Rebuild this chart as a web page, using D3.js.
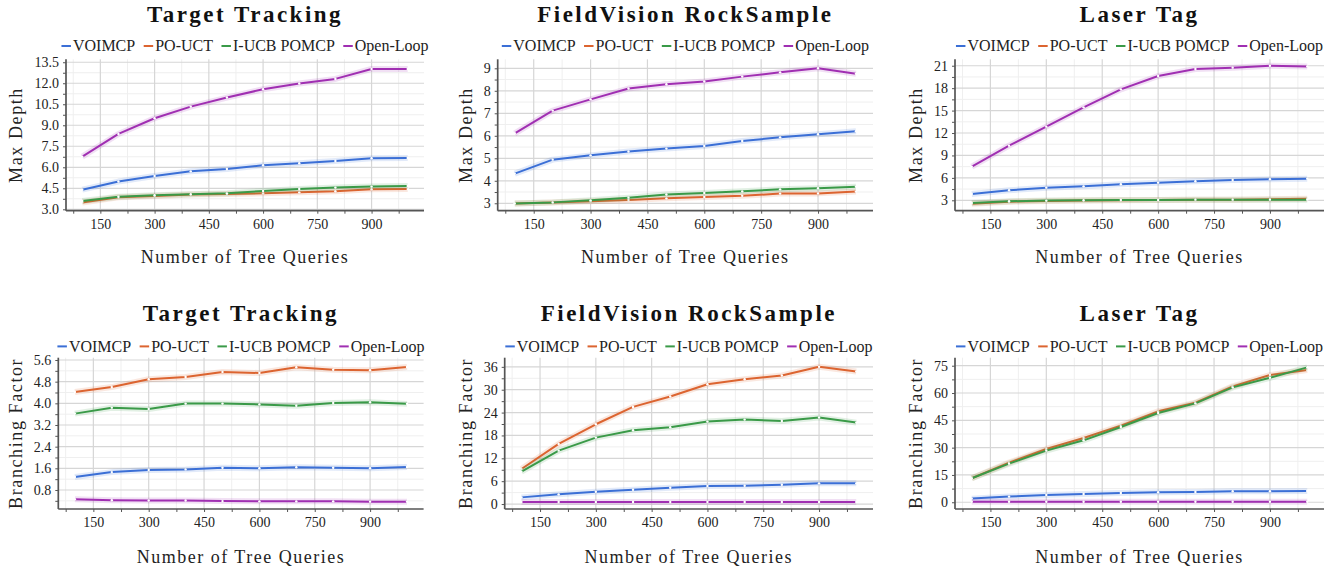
<!DOCTYPE html>
<html>
<head>
<meta charset="utf-8">
<script src="https://cdn.jsdelivr.net/npm/d3@7"></script>
<style>
  body { margin: 0; background: #fff; }
  svg { display: block; }
</style>
</head>
<body>
<div id="chart"></div>
<script>
// x values shared by every panel
const queries = [100, 200, 300, 400, 500, 600, 700, 800, 900, 1000];
const seriesNames = ["VOIMCP", "PO-UCT", "I-UCB POMCP", "Open-Loop"];
const seriesColors = ["#3b6fd6", "#dc6430", "#3a9a48", "#a02fb2"];
const FONT = '"Liberation Serif", "Times New Roman", serif';

// Max depth
const ttDepthVoimcp = [4.40, 4.98, 5.38, 5.71, 5.88, 6.14, 6.29, 6.45, 6.64, 6.67];
const ttDepthPouct  = [3.48, 3.86, 3.95, 4.05, 4.10, 4.14, 4.21, 4.29, 4.43, 4.45];
const ttDepthIucb   = [3.60, 3.90, 4.00, 4.07, 4.14, 4.31, 4.45, 4.55, 4.62, 4.67];
const ttDepthOpen   = [6.76, 8.38, 9.50, 10.33, 10.98, 11.57, 11.98, 12.31, 13.02, 13.02];

const rsDepthVoimcp = [4.32, 4.94, 5.13, 5.30, 5.43, 5.55, 5.77, 5.93, 6.07, 6.20];
const rsDepthPouct  = [2.99, 3.03, 3.09, 3.15, 3.22, 3.28, 3.33, 3.43, 3.44, 3.52];
const rsDepthIucb   = [2.99, 3.04, 3.13, 3.25, 3.39, 3.46, 3.53, 3.62, 3.67, 3.74];
const rsDepthOpen   = [6.11, 7.12, 7.62, 8.10, 8.29, 8.41, 8.63, 8.82, 9.00, 8.76];

const ltDepthVoimcp = [3.85, 4.34, 4.69, 4.87, 5.14, 5.36, 5.54, 5.72, 5.81, 5.90];
const ltDepthPouct  = [2.55, 2.82, 2.91, 2.96, 3.00, 3.04, 3.09, 3.09, 3.13, 3.22];
const ltDepthIucb   = [2.64, 2.87, 2.96, 3.00, 3.04, 3.04, 3.09, 3.09, 3.09, 3.09];
const ltDepthOpen   = [7.50, 10.31, 12.85, 15.43, 17.84, 19.62, 20.56, 20.74, 21.00, 20.91];

// Branching factor
const ttBranchVoimcp = [1.28, 1.46, 1.54, 1.56, 1.62, 1.60, 1.64, 1.62, 1.60, 1.65];
const ttBranchPouct  = [4.42, 4.60, 4.89, 4.97, 5.16, 5.12, 5.33, 5.24, 5.22, 5.34];
const ttBranchIucb   = [3.62, 3.84, 3.79, 3.99, 3.99, 3.96, 3.91, 4.01, 4.04, 3.98];
const ttBranchOpen   = [0.46, 0.42, 0.41, 0.41, 0.39, 0.38, 0.38, 0.38, 0.37, 0.37];

const rsBranchVoimcp = [1.75, 2.54, 3.24, 3.77, 4.29, 4.73, 4.82, 5.08, 5.43, 5.43];
const rsBranchPouct  = [9.20, 15.77, 20.93, 25.49, 28.20, 31.44, 32.76, 33.72, 36.00, 34.77];
const rsBranchIucb   = [8.50, 14.01, 17.43, 19.36, 20.15, 21.63, 22.16, 21.81, 22.69, 21.37];
const rsBranchOpen   = [0.53, 0.52, 0.52, 0.52, 0.52, 0.52, 0.52, 0.52, 0.52, 0.52];

const ltBranchVoimcp = [2.00, 3.10, 4.00, 4.57, 5.12, 5.49, 5.67, 6.04, 6.04, 6.20];
const ltBranchPouct  = [13.17, 21.77, 29.27, 35.30, 42.07, 49.94, 54.69, 63.66, 69.87, 72.60];
const ltBranchIucb   = [13.17, 21.22, 28.35, 34.02, 41.34, 49.00, 54.33, 63.10, 68.40, 74.08];
const ltBranchOpen   = [0.30, 0.30, 0.30, 0.30, 0.30, 0.30, 0.30, 0.30, 0.30, 0.30];

// tick labels
const xTicks = [150, 300, 450, 600, 750, 900];
const xMinorTicks = [75, 225, 375, 525, 675, 825, 975];
const ttDepthTicks = [3.0, 4.5, 6.0, 7.5, 9.0, 10.5, 12.0, 13.5];
const rsDepthTicks = [3, 4, 5, 6, 7, 8, 9];
const ltDepthTicks = [3, 6, 9, 12, 15, 18, 21];
const ttBranchTicks = [0.8, 1.6, 2.4, 3.2, 4.0, 4.8, 5.6];
const rsBranchTicks = [0, 6, 12, 18, 24, 30, 36];
const ltBranchTicks = [0, 15, 30, 45, 60, 75];

const width = 1341, height = 573;
const svg = d3.select('#chart').append('svg')
    .attr('width', width)
    .attr('height', height)
    .style('font-family', FONT);

// panel layout (plot box in pixels)
const rowTop = [59.3, 357.7];
const rowBottom = [210.7, 509];
const panels = [
  { title: "Target Tracking", ylabel: "Max Depth", row: 0, left: 66, right: 424,
    ydom: [2.9, 13.71], ticks: ttDepthTicks, fmt: d3.format(".1f"),
    series: [ttDepthVoimcp, ttDepthPouct, ttDepthIucb, ttDepthOpen] },
  { title: "FieldVision RockSample", ylabel: "Max Depth", row: 0, left: 497.7, right: 873,
    ydom: [2.67, 9.4], ticks: rsDepthTicks, fmt: d3.format("d"),
    series: [rsDepthVoimcp, rsDepthPouct, rsDepthIucb, rsDepthOpen] },
  { title: "Laser Tag", ylabel: "Max Depth", row: 0, left: 955, right: 1324,
    ydom: [1.61, 21.86], ticks: ltDepthTicks, fmt: d3.format("d"),
    series: [ltDepthVoimcp, ltDepthPouct, ltDepthIucb, ltDepthOpen] },
  { title: "Target Tracking", ylabel: "Branching Factor", row: 1, left: 58.3, right: 423.6,
    ydom: [0.098, 5.685], ticks: ttBranchTicks, fmt: d3.format(".1f"),
    series: [ttBranchVoimcp, ttBranchPouct, ttBranchIucb, ttBranchOpen] },
  { title: "FieldVision RockSample", ylabel: "Branching Factor", row: 1, left: 504.7, right: 873,
    ydom: [-1.3, 38.4], ticks: rsBranchTicks, fmt: d3.format("d"),
    series: [rsBranchVoimcp, rsBranchPouct, rsBranchIucb, rsBranchOpen] },
  { title: "Laser Tag", ylabel: "Branching Factor", row: 1, left: 955, right: 1324,
    ydom: [-3.7, 79.4], ticks: ltBranchTicks, fmt: d3.format("d"),
    series: [ltBranchVoimcp, ltBranchPouct, ltBranchIucb, ltBranchOpen] }
];

panels.forEach(p => {
  const top = rowTop[p.row], bottom = rowBottom[p.row];
  const x = d3.scaleLinear().domain([55, 1045]).range([p.left, p.right]);
  const y = d3.scaleLinear().domain(p.ydom).range([bottom, top]);
  const g = svg.append('g');

  // minor y ticks halfway between majors
  const step = p.ticks[1] - p.ticks[0];
  const yMinor = [];
  for (let i = -1; i < p.ticks.length; i++) {
    const v = p.ticks[0] + (i + 0.5) * step;
    if (v > p.ydom[0] && v < p.ydom[1]) yMinor.push(v);
  }

  // grid
  g.selectAll('.xminor').data(xMinorTicks).enter().append('line')
    .attr('x1', d => x(d)).attr('x2', d => x(d)).attr('y1', top).attr('y2', bottom)
    .attr('stroke', '#efefef').attr('stroke-width', 1);
  g.selectAll('.yminor').data(yMinor).enter().append('line')
    .attr('x1', p.left).attr('x2', p.right).attr('y1', d => y(d)).attr('y2', d => y(d))
    .attr('stroke', '#efefef').attr('stroke-width', 1);
  g.selectAll('.xmajor').data(xTicks).enter().append('line')
    .attr('x1', d => x(d)).attr('x2', d => x(d)).attr('y1', top).attr('y2', bottom)
    .attr('stroke', '#d6d6d6').attr('stroke-width', 1.2);
  g.selectAll('.ymajor').data(p.ticks).enter().append('line')
    .attr('x1', p.left).attr('x2', p.right).attr('y1', d => y(d)).attr('y2', d => y(d))
    .attr('stroke', '#d6d6d6').attr('stroke-width', 1.2);

  // axes
  const xAxis = g.append('g').attr('transform', `translate(0,${bottom})`)
    .call(d3.axisBottom(x).tickValues(xTicks).tickSize(3).tickPadding(5));
  g.append('g').attr('transform', `translate(0,${bottom})`)
    .call(d3.axisBottom(x).tickValues(xMinorTicks).tickSize(3).tickFormat(''))
    .call(a => a.select('.domain').remove());
  const yAxis = g.append('g').attr('transform', `translate(${p.left},0)`)
    .call(d3.axisLeft(y).tickValues(p.ticks).tickFormat(p.fmt).tickSize(3).tickPadding(4));
  g.append('g').attr('transform', `translate(${p.left},0)`)
    .call(d3.axisLeft(y).tickValues(yMinor).tickSize(3).tickFormat(''))
    .call(a => a.select('.domain').remove());

  g.selectAll('g').attr('font-family', null);
  g.selectAll('.domain').attr('stroke', '#555').attr('stroke-width', 1.7);
  g.selectAll('.tick line').attr('stroke', '#555').attr('stroke-width', 1);
  xAxis.select('.domain').attr('d', `M${p.left},0H${p.right}`);
  yAxis.select('.domain').attr('d', `M0,${top}V${bottom}`);
  g.selectAll('.tick text')
    .style('font-family', FONT)
    .style('font-size', '14px').attr('fill', '#222');

  // series
  const line = d3.line().x((d, i) => x(queries[i])).y(d => y(d));
  p.series.forEach((vals, si) => {
    g.append('path').datum(vals).attr('d', line)
      .attr('fill', 'none').attr('stroke', seriesColors[si])
      .attr('stroke-width', 6).attr('stroke-opacity', 0.15)
      .attr('stroke-linejoin', 'round');
    g.append('path').datum(vals).attr('d', line)
      .attr('fill', 'none').attr('stroke', seriesColors[si])
      .attr('stroke-width', 2).attr('stroke-linejoin', 'round');
    g.selectAll(null).data(vals).enter().append('circle')
      .attr('cx', (d, i) => x(queries[i])).attr('cy', d => y(d))
      .attr('r', 1.2).attr('fill', '#fff');
  });

  // title
  const cx = (p.left + p.right) / 2;
  svg.append('text').attr('x', cx).attr('y', p.row === 0 ? 21.7 : 320.7)
    .attr('text-anchor', 'middle').attr('fill', '#111')
    .style('font-family', FONT)
    .style('font-size', '23px').style('font-weight', 'bold')
    .style('letter-spacing', '2.5px')
    .text(p.title);

  // legend
  const legY = p.row === 0 ? 51.3 : 351.7;
  const leg = svg.append('g');
  let lx = 0;
  seriesNames.forEach((name, si) => {
    leg.append('line').attr('x1', lx).attr('x2', lx + 9.5)
      .attr('y1', legY - 5.3).attr('y2', legY - 5.3)
      .attr('stroke', seriesColors[si]).attr('stroke-width', 2);
    const t = leg.append('text').attr('x', lx + 11.5).attr('y', legY)
      .attr('fill', '#222')
      .style('font-family', FONT)
      .style('font-size', '16px').text(name);
    lx += 11.5 + t.node().getComputedTextLength() + 8.5;
  });
  lx -= 8.5;
  leg.attr('transform', `translate(${cx - lx / 2},0)`);

  // axis labels
  svg.append('text').attr('x', cx).attr('y', p.row === 0 ? 263.3 : 563.3)
    .attr('text-anchor', 'middle').attr('fill', '#222')
    .style('font-family', FONT)
    .style('font-size', '18px').style('letter-spacing', '1.5px')
    .text('Number of Tree Queries');
  const tw = d3.max(yAxis.selectAll('.tick text').nodes(), n => n.getComputedTextLength());
  const lxPos = p.left - 7 - tw - 18.5;
  svg.append('text')
    .attr('transform', `translate(${lxPos},${(top + bottom) / 2}) rotate(-90)`)
    .attr('text-anchor', 'middle').attr('dy', '0.35em').attr('fill', '#222')
    .style('font-family', FONT)
    .style('font-size', '18px').style('letter-spacing', '1.6px')
    .text(p.ylabel);
});
</script>
</body>
</html>
